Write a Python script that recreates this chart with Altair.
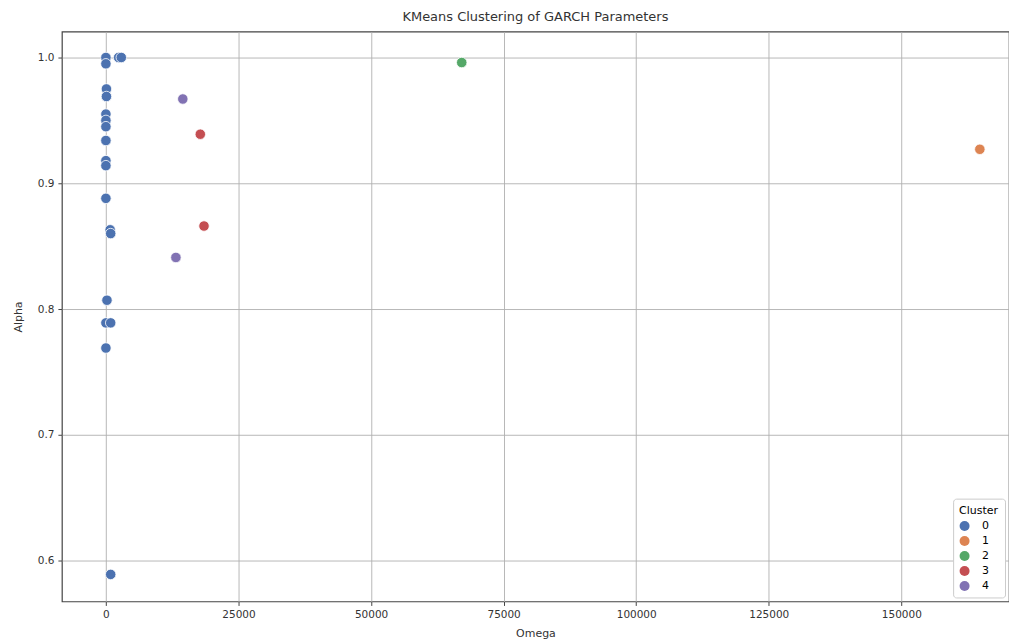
import altair as alt
import pandas as pd

omega = [0, 2400, 2900, 0, 100, 100, 0, 0, 0, 0, 0, 0, 0, 800, 900, 200, 0, 900, 0, 900,
         14500, 13200, 17800, 18500, 67100, 164800]
alpha = [1.000, 1.000, 1.000, 0.995, 0.975, 0.969, 0.955, 0.950, 0.945, 0.934, 0.918, 0.914, 0.888,
         0.863, 0.860, 0.807, 0.789, 0.789, 0.769, 0.589,
         0.967, 0.841, 0.939, 0.866, 0.996, 0.927]
cluster = ["0"] * 20 + ["4", "4", "3", "3", "2", "1"]

df = pd.DataFrame({"Omega": omega, "Alpha": alpha, "Cluster": cluster})

palette = ["#4C72B0", "#DD8452", "#55A868", "#C44E52", "#8172B3"]

chart = alt.Chart(df).mark_point(filled=True, opacity=1, stroke="white", strokeWidth=0.8, size=110).encode(
    x=alt.X("Omega:Q", title="Omega",
            scale=alt.Scale(domain=[-8300, 170300], nice=False, zero=False),
            axis=alt.Axis(values=[0, 25000, 50000, 75000, 100000, 125000, 150000], format="d")),
    y=alt.Y("Alpha:Q", title="Alpha",
            scale=alt.Scale(domain=[0.5675, 1.0206], nice=False, zero=False),
            axis=alt.Axis(values=[0.6, 0.7, 0.8, 0.9, 1.0], format=".1f")),
    color=alt.Color("Cluster:N", scale=alt.Scale(domain=["0", "1", "2", "3", "4"], range=palette),
                    legend=alt.Legend(orient="bottom-right", title="Cluster", fillColor="white",
                                      strokeColor="#cccccc", padding=6, cornerRadius=3,
                                      symbolSize=100, symbolStrokeWidth=0, labelFontSize=11,
                                      labelOffset=12, rowPadding=3,
                                      titleFontSize=11, titleFontWeight="normal", offset=4)),
).properties(
    width=949, height=571,
    title=alt.TitleParams("KMeans Clustering of GARCH Parameters", fontSize=13, fontWeight="normal",
                          font="DejaVu Sans", color="#333333", offset=8),
    padding={"left": 4, "top": 2, "right": 0, "bottom": 0},
).configure_view(
    stroke="#444444", strokeWidth=1.2
).configure_axis(
    grid=True, gridColor="#b0b0b0", gridWidth=0.9, domain=False,
    tickColor="#444444", tickSize=4, labelFont="DejaVu Sans", labelFontSize=10.5, labelColor="#333333",
    titleFont="DejaVu Sans", titleFontSize=11, titleFontWeight="normal", titleColor="#333333",
    labelPadding=4
).configure_axisY(titlePadding=14).configure_axisX(titlePadding=8).configure_legend(
    labelFont="DejaVu Sans", titleFont="DejaVu Sans"
)

chart.save("out.html", embed_options={"renderer": "svg", "actions": False})
